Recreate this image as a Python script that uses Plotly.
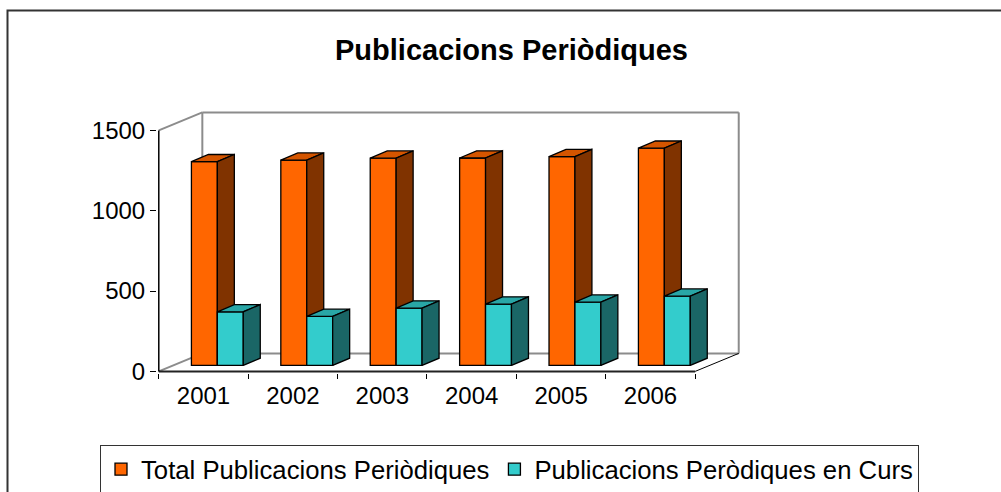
import plotly.graph_objects as go

# data
years = ["2001", "2002", "2003", "2004", "2005", "2006"]
total = [1268, 1278, 1290, 1291, 1300, 1352]
en_curs = [334, 305, 357, 382, 394, 431]

# pseudo-3d geometry (axis units)
BASE = 37          # bars sit a little behind the front edge
BW = 0.29          # bar width
DX, DY = 0.19, 45  # bar depth
FDX, FDY = 0.487, 112  # floor / wall depth
YMAX = 1500

L, R, T, B = 157, 257, 110, 119
W, H = 1001 - L - R, 492 - T - B
XR = [-0.52, -0.52 + W / 89.4]
YR = [-10, -10 + H / 0.16067]


def px(x):
    return (x - L) / W


def py(y):
    return (T + H - y) / H


def faces(xc, vals):
    top_x, top_y, side_x, side_y = [], [], [], []
    for c, v in zip(xc, vals):
        x0, x1, y1 = c - BW / 2, c + BW / 2, BASE + v
        top_x += [x0, x1, x1 + DX, x0 + DX, x0, None]
        top_y += [y1, y1, y1 + DY, y1 + DY, y1, None]
        side_x += [x1, x1, x1 + DX, x1 + DX, x1, None]
        side_y += [BASE, y1, y1 + DY, BASE + DY, BASE, None]
    return top_x, top_y, side_x, side_y


fig = go.Figure()
series = [
    ("Total Publicacions Periòdiques", total, 0.01, "#FF6600", "#D45500", "#803300", "x", "y"),
    ("Publicacions Peròdiques en Curs", en_curs, 0.30, "#33CCCC", "#29A6A6", "#1A6666", "x2", "y2"),
]
# each series on its own overlaid subplot so the cyan block is drawn over the orange one
for name, vals, off, front, topc, sidec, xa, ya in series:
    xc = [i + off for i in range(len(years))]
    fig.add_trace(go.Bar(x=xc, y=vals, base=BASE, width=BW, name=name, xaxis=xa, yaxis=ya,
                         marker=dict(color=front, line=dict(color="black", width=1.3)),
                         hoverinfo="skip"))
    tx, ty, sx, sy = faces(xc, vals)
    for fx, fy, col in [(tx, ty, topc), (sx, sy, sidec)]:
        fig.add_trace(go.Scatter(x=fx, y=fy, mode="lines", fill="toself", fillcolor=col,
                                 xaxis=xa, yaxis=ya,
                                 line=dict(color="black", width=1.3), showlegend=False,
                                 hoverinfo="skip"))

grey = dict(color="#8c8c8c", width=2)
x0, x1 = -0.5, len(years) - 0.5
walls = [
    (x0 + FDX, YMAX + FDY, x1 + FDX, YMAX + FDY, grey),
    (x1 + FDX, FDY, x1 + FDX, YMAX + FDY, grey),
    (x0 + FDX, FDY, x0 + FDX, YMAX + FDY, grey),
    (x0 + FDX, FDY, x1 + FDX, FDY, grey),
    (x0, YMAX, x0 + FDX, YMAX + FDY, grey),
    (x0, 0, x0 + FDX, FDY, grey),
    (x1, 0, x1 + FDX, FDY, dict(color="black", width=1)),
    (x0, 0, x1, 0, dict(color="#222", width=2)),
    (x0, 0, x0, YMAX, dict(color="black", width=1.5)),
]
for a, b, c, d, ln in walls:
    fig.add_shape(type="line", x0=a, y0=b, x1=c, y1=d, line=ln, layer="below")

# outer chart border
fig.add_shape(type="rect", xref="paper", yref="paper", x0=px(7.5), y0=py(10.5),
              x1=px(1010), y1=py(500), line=dict(color="#333", width=2))

font = "Liberation Sans, Arial, sans-serif"
fig.update_layout(
    width=1001, height=492,
    margin=dict(l=L, r=R, t=T, b=B, autoexpand=False),
    paper_bgcolor="white", plot_bgcolor="white",
    barmode="overlay", showlegend=True,
    font=dict(family=font, color="black", size=24),
    title=dict(text="<b>Publicacions Periòdiques</b>", x=0.511, y=1 - 50 / 492,
               xanchor="center", yanchor="middle", font=dict(size=29)),
    xaxis=dict(range=XR, tickvals=list(range(len(years))), ticktext=years, ticks="",
               showgrid=False, zeroline=False, showline=False, automargin=False,
               ticklabelstandoff=6,
               minor=dict(tickvals=[i - 0.5 for i in range(len(years) + 1)], ticks="outside",
                          ticklen=5, tickcolor="black", tickwidth=1.3, showgrid=False),
               tickfont=dict(size=24)),
    yaxis=dict(range=YR, tickvals=[0, 500, 1000, 1500], ticks="outside", ticklen=6,
               tickcolor="black", showgrid=False, zeroline=False, showline=False,
               automargin=False, tickfont=dict(size=24)),
    xaxis2=dict(overlaying="x", matches="x", visible=False, range=XR),
    yaxis2=dict(overlaying="y", matches="y", visible=False, range=YR),
    legend=dict(orientation="h", x=px(919), xanchor="right", y=py(445), yanchor="top",
                bordercolor="#333", borderwidth=1, font=dict(size=25.7),
                traceorder="normal", itemwidth=30),
)

fig.write_html("out.html", config={"displayModeBar": False},
               post_script="document.body.style.margin='0';")
